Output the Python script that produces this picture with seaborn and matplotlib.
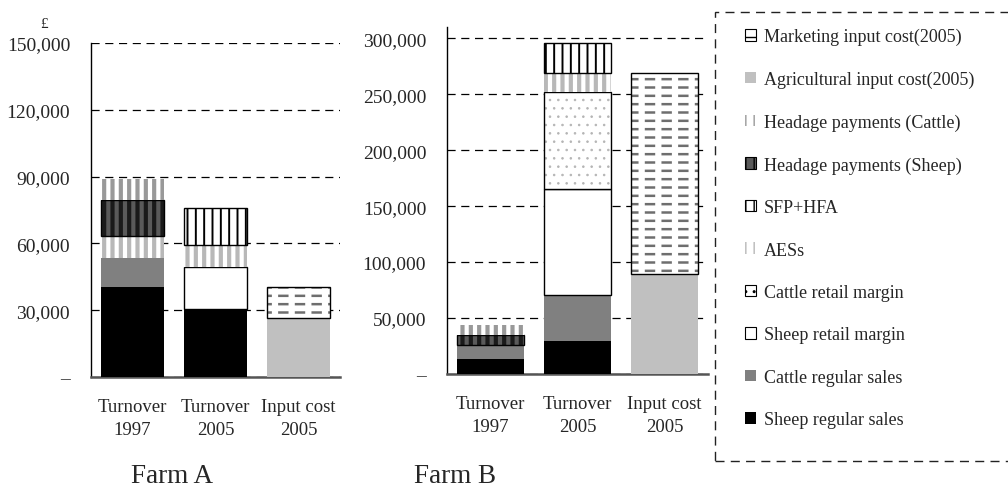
import matplotlib
matplotlib.use("Agg")
import matplotlib.pyplot as plt
import matplotlib.patches as mpatches
import seaborn as sns
import pandas as pd

# --- datos ---
categories = ["Turnover\n1997", "Turnover\n2005", "Input cost\n2005"]

# orden de apilado (de abajo hacia arriba)
segments = [
    "Sheep regular sales",
    "Cattle regular sales",
    "Sheep retail margin",
    "Cattle retail margin",
    "AESs",
    "SFP+HFA",
    "Headage payments (Sheep)",
    "Headage payments (Cattle)",
    "Agricultural input cost(2005)",
    "Marketing input cost(2005)",
]

farm_a_values = [
    [40500, 30500, 0],
    [13000, 0, 0],
    [0, 19000, 0],
    [0, 0, 0],
    [10000, 10000, 0],
    [0, 16500, 0],
    [16000, 0, 0],
    [9500, 0, 0],
    [0, 0, 26500],
    [0, 0, 14000],
]

farm_b_values = [
    [13500, 29500, 0],
    [12500, 41500, 0],
    [0, 94000, 0],
    [0, 86500, 0],
    [0, 17500, 0],
    [0, 27000, 0],
    [9000, 0, 0],
    [8500, 0, 0],
    [0, 0, 89000],
    [0, 0, 180000],
]

farm_a_ticks = [0, 30000, 60000, 90000, 120000, 150000]
farm_b_ticks = [0, 50000, 100000, 150000, 200000, 250000, 300000]

# --- estilos ---
# face, hatch, color del hatch, grosor del hatch, borde negro
styles = {
    "Sheep regular sales": ("black", None, "black", 1, False),
    "Cattle regular sales": ("#808080", None, "#808080", 1, False),
    "Sheep retail margin": ("white", None, "white", 1, True),
    "Cattle retail margin": ("white", "..", "#b4b4b4", 0.6, True),
    "AESs": ("white", "||", "#b8b8b8", 3.0, False),
    "SFP+HFA": ("white", "||", "black", 1.4, True),
    "Headage payments (Sheep)": ("#5a5a5a", "||", "#1a1a1a", 3.0, True),
    "Headage payments (Cattle)": ("white", "||", "#999999", 3.0, False),
    "Agricultural input cost(2005)": ("#c0c0c0", None, "#c0c0c0", 1, False),
    "Marketing input cost(2005)": ("white", "--", "#6e6e6e", 1.8, True),
}

sns.set_style("white")
plt.rcParams["font.family"] = ["Liberation Serif", "DejaVu Serif"]

W, H = 1008, 502
fig = plt.figure(figsize=(W / 100, H / 100), dpi=100)


def px_axes(left, right, bottom, top):
    return fig.add_axes([left / W, 1 - bottom / H, (right - left) / W, (bottom - top) / H])


def set_hlw(patch, lw):
    if hasattr(patch, "set_hatch_linewidth"):
        patch.set_hatch_linewidth(lw)


def layer(ax, vals, bottoms, facecolor, **kw):
    df = pd.DataFrame({"cat": categories, "val": vals})
    n0 = len(ax.patches)
    base_color = facecolor if facecolor != "none" else "black"
    sns.barplot(data=df, x="cat", y="val", order=categories, width=0.77,
                errorbar=None, color=base_color, saturation=1,
                bottom=bottoms, facecolor=facecolor, ax=ax, zorder=3, **kw)
    new = ax.patches[n0:]
    for p, v in zip(new, vals):
        if v == 0:
            p.set_visible(False)
    return new


def draw_farm(ax, values, ticks, ymax):
    bottoms = [0, 0, 0]
    for seg, vals in zip(segments, values):
        face, hatch, hcol, hlw, border = styles[seg]
        base = layer(ax, vals, bottoms, face, edgecolor=hcol,
                     linewidth=0, hatch=hatch)
        for p in base:
            set_hlw(p, hlw)
        if seg.startswith("Marketing"):
            # cortar las líneas horizontales en guiones
            cut = layer(ax, vals, bottoms, "none", edgecolor="white",
                        linewidth=0, hatch="|")
            for p in cut:
                set_hlw(p, 4.5)
        if border:
            layer(ax, vals, bottoms, "none", edgecolor="black", linewidth=1.0)
        bottoms = [b + v for b, v in zip(bottoms, vals)]

    ax.set_xlim(-0.5, 2.5)
    ax.set_ylim(0, ymax)
    ax.set_yticks(ticks)
    ax.set_yticklabels(["–" if t == 0 else f"{t:,}" for t in ticks])
    ax.set_xticks(range(len(categories)))
    ax.set_xticklabels(categories, linespacing=1.45)
    ax.set_xticks([0.5, 1.5, 2.5], minor=True)
    ax.tick_params(axis="x", which="major", length=0, pad=15, labelsize=13.5)
    ax.tick_params(axis="x", which="minor", direction="in", length=5,
                   width=1, color="black")
    ax.tick_params(axis="y", length=0, pad=15, labelsize=14)
    ax.set_xlabel("")
    ax.set_ylabel("")
    ax.yaxis.grid(True, linestyle=(0, (6.5, 4.5)), color="black", linewidth=0.9)
    ax.xaxis.grid(False)
    ax.set_axisbelow(True)
    for s in ["top", "right"]:
        ax.spines[s].set_visible(False)
    ax.spines["left"].set_color("black")
    ax.spines["left"].set_linewidth(1.0)
    ax.spines["bottom"].set_color("#555555")
    ax.spines["bottom"].set_linewidth(1.8)


ax_a = px_axes(91, 340, 378, 44)
draw_farm(ax_a, farm_a_values, farm_a_ticks, 150000)

ax_b = px_axes(447, 708, 375, 28)
draw_farm(ax_b, farm_b_values, farm_b_ticks, 310000)

fig.text(44 / W, 1 - 25 / H, "£", ha="center", va="center", fontsize=11)
fig.text(172 / W, 1 - 477 / H, "Farm A", ha="center", va="center", fontsize=19.5)
fig.text(455 / W, 1 - 477 / H, "Farm B", ha="center", va="center", fontsize=19.5)

# --- leyenda ---
handles = []
for seg in reversed(segments):
    face, hatch, hcol, hlw, border = styles[seg]
    edge = "black" if border else hcol
    h = mpatches.Patch(facecolor=face, edgecolor=edge, hatch=hatch,
                       linewidth=0.8 if border else 0)
    handles.append(h)

fig.legend(handles, list(reversed(segments)), loc="upper left",
           bbox_to_anchor=(745 / W, 1 - 29 / H), frameon=False, fontsize=13,
           handlelength=0.6, handleheight=0.6, handletextpad=0.45,
           labelspacing=1.41, borderpad=0, borderaxespad=0)

frame = mpatches.Rectangle((715 / W, 1 - 462 / H), 0.4, (462 - 13) / H,
                           transform=fig.transFigure, fill=False,
                           edgecolor="#222222", linewidth=1.0,
                           linestyle=(0, (6.5, 4.5)), clip_on=False)
fig.patches.append(frame)

fig.savefig("out.png", dpi=100)
